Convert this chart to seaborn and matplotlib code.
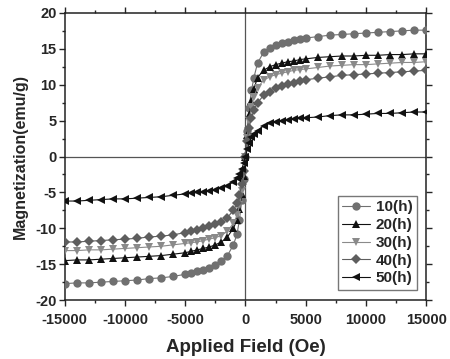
import matplotlib
matplotlib.use("Agg")
import matplotlib.pyplot as plt
import pandas as pd
import seaborn as sns
from matplotlib.ticker import MultipleLocator

# applied field (Oe)
FIELD = [-15000, -14000, -13000, -12000, -11000, -10000, -9000, -8000, -7000, -6000, -5000,
         -4500, -4000, -3500, -3000, -2500, -2000, -1500, -1000, -700, -500, -300, -150, 0,
         150, 300, 500, 700, 1000, 1500, 2000, 2500, 3000, 3500, 4000, 4500,
         5000, 6000, 7000, 8000, 9000, 10000, 11000, 12000, 13000, 14000, 15000]

M_10H = [-17.7, -17.6, -17.6, -17.5, -17.4, -17.3, -17.2, -17.0, -16.9, -16.7, -16.4,
         -16.2, -16.0, -15.8, -15.5, -15.1, -14.6, -13.8, -12.3, -10.8, -8.8, -6.0, -3.2, 0.0,
         3.5, 6.8, 9.2, 11.0, 13.0, 14.5, 15.1, 15.5, 15.8, 16.0, 16.2, 16.3,
         16.5, 16.7, 16.9, 17.0, 17.1, 17.2, 17.3, 17.4, 17.5, 17.6, 17.6]
M_20H = [-14.5, -14.4, -14.4, -14.3, -14.2, -14.1, -14.0, -13.9, -13.8, -13.6, -13.4,
         -13.2, -13.0, -12.8, -12.6, -12.3, -11.9, -11.2, -10.0, -8.8, -7.3, -5.2, -2.7, 0.0,
         3.0, 5.8, 7.8, 9.4, 11.0, 12.0, 12.5, 12.8, 13.0, 13.2, 13.3, 13.5,
         13.6, 13.8, 13.9, 14.0, 14.0, 14.1, 14.1, 14.2, 14.2, 14.3, 14.3]
M_30H = [-13.1, -13.1, -13.0, -13.0, -12.9, -12.8, -12.7, -12.6, -12.5, -12.3, -12.1,
         -12.0, -11.9, -11.7, -11.5, -11.3, -11.0, -10.4, -9.3, -8.2, -6.8, -4.8, -2.5, 0.0,
         2.6, 5.0, 6.9, 8.3, 9.6, 10.6, 11.1, 11.4, 11.6, 11.8, 12.0, 12.1,
         12.2, 12.4, 12.6, 12.7, 12.8, 12.8, 12.9, 13.0, 13.1, 13.1, 13.2]
M_40H = [-11.9, -11.9, -11.8, -11.7, -11.6, -11.5, -11.4, -11.2, -11.1, -10.9, -10.6,
         -10.4, -10.2, -10.0, -9.7, -9.4, -9.1, -8.5, -7.5, -6.5, -5.4, -3.8, -2.0, 0.0,
         2.1, 4.0, 5.4, 6.5, 7.5, 8.5, 9.0, 9.5, 9.8, 10.1, 10.3, 10.5,
         10.7, 10.9, 11.1, 11.3, 11.4, 11.5, 11.6, 11.7, 11.8, 11.9, 12.0]
M_50H = [-6.2, -6.2, -6.1, -6.0, -5.9, -5.9, -5.8, -5.7, -5.6, -5.4, -5.2,
         -5.1, -5.0, -4.9, -4.8, -4.6, -4.4, -4.1, -3.5, -3.0, -2.5, -1.7, -0.9, 0.0,
         1.0, 1.9, 2.7, 3.2, 3.6, 4.3, 4.6, 4.8, 5.0, 5.1, 5.2, 5.3,
         5.4, 5.5, 5.7, 5.8, 5.8, 5.9, 6.0, 6.0, 6.1, 6.2, 6.2]

LABELS = ["10(h)", "20(h)", "30(h)", "40(h)", "50(h)"]
COLORS = ["#707070", "#111111", "#8a8a8a", "#5e5e5e", "#111111"]
MARKERS = ["o", "^", "v", "D", "<"]
SIZES = [6, 6, 6, 5, 6]

series = [M_10H, M_20H, M_30H, M_40H, M_50H]
df = pd.concat([pd.DataFrame({"Field": FIELD, "M": m, "Sample": lab})
                for m, lab in zip(series, LABELS)], ignore_index=True)

sns.set_style("ticks")
plt.rcParams["font.family"] = ["Liberation Sans", "DejaVu Sans"]
plt.rcParams["font.weight"] = "bold"
plt.rcParams["axes.unicode_minus"] = False

fig = plt.figure(figsize=(4.5, 3.59), dpi=100)
ax = fig.add_axes([0.144, 0.164, 0.803, 0.800])

ax.axhline(0, color="#555555", lw=0.9, zorder=1)
ax.axvline(0, color="#555555", lw=0.9, zorder=1)

for lab, col, mk, ms in zip(LABELS, COLORS, MARKERS, SIZES):
    sub = df[df["Sample"] == lab]
    sns.lineplot(data=sub, x="Field", y="M", ax=ax, color=col, marker=mk,
                 markersize=ms, markeredgewidth=0, linewidth=0.8, label=lab,
                 zorder=3)

ax.set_xlim(-15000, 15000)
ax.set_ylim(-20, 20)
ax.xaxis.set_major_locator(MultipleLocator(5000))
ax.xaxis.set_minor_locator(MultipleLocator(2500))
ax.yaxis.set_major_locator(MultipleLocator(5))
ax.yaxis.set_minor_locator(MultipleLocator(2.5))
ax.tick_params(which="both", direction="out", width=1, labelsize=10.5)
ax.tick_params(axis="x", pad=5)
ax.tick_params(axis="y", pad=2)
ax.tick_params(which="major", length=4)
ax.tick_params(which="minor", length=2.5)
ax.tick_params(top=True, right=True, which="both")
for lbl in ax.get_xticklabels() + ax.get_yticklabels():
    lbl.set_fontweight("bold")
for sp in ax.spines.values():
    sp.set_visible(True)
    sp.set_linewidth(1.1)
    sp.set_color("#222222")

ax.set_xlabel("Applied Field (Oe)", fontsize=13.5, fontweight="bold", labelpad=9)
ax.set_ylabel("Magnetization(emu/g)", fontsize=11.5, fontweight="bold", labelpad=5)

leg = ax.legend(loc="lower right", bbox_to_anchor=(0.975, 0.035), fontsize=11,
                frameon=True, fancybox=False, handlelength=1.8, handletextpad=0.4,
                labelspacing=0.25, borderpad=0.3, borderaxespad=0)
leg.get_frame().set_edgecolor("#555555")
leg.get_frame().set_linewidth(1.0)
for t in leg.get_texts():
    t.set_fontweight("bold")

fig.savefig("out.png", dpi=100)
